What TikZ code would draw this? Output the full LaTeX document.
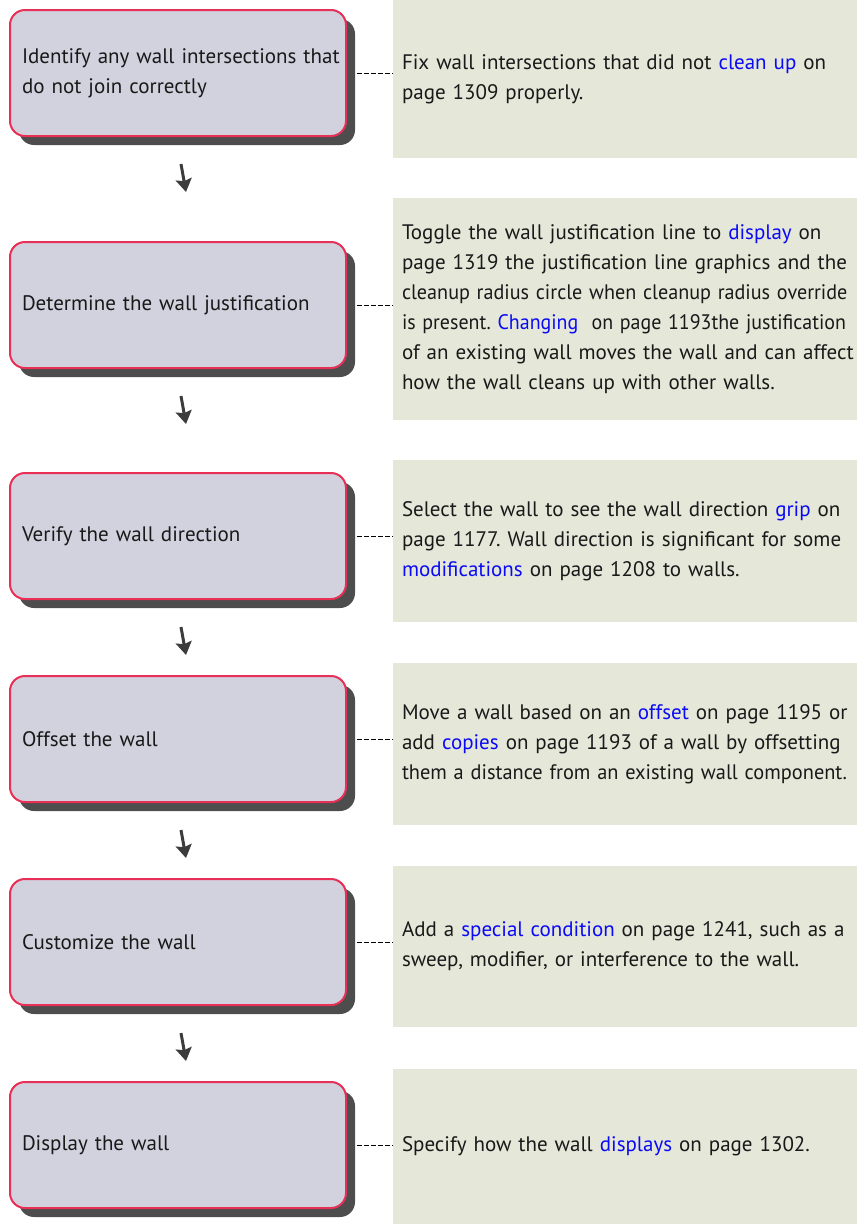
\documentclass[tikz,border=0pt]{standalone}
\usepackage{xcolor}
\usepackage{fontspec}
\setmainfont{PT Sans}
\usepackage{tikz}
\usetikzlibrary{arrows.meta,calc,shadows}
\frenchspacing

\definecolor{stepfill}{RGB}{210,210,223}
\definecolor{stepedge}{RGB}{232,48,86}
\definecolor{stepshade}{RGB}{77,77,77}
\definecolor{notefill}{RGB}{229,231,217}
\definecolor{linkblue}{RGB}{10,10,245}
\definecolor{flowgray}{RGB}{60,60,60}
\newcommand{\lnk}[1]{\textcolor{linkblue}{#1}}

\tikzset{
  stepbox/.style={draw=stepedge,fill=stepfill,line width=2pt,rounded corners=15pt,
    minimum width=336pt,minimum height=126pt,text width=312pt,inner xsep=12pt,
    align=left,text=black!90,font=\fontsize{21}{30}\selectfont,
    drop shadow={shadow xshift=9pt,shadow yshift=-9pt,fill=stepshade,opacity=1}},
  notebox/.style={fill=notefill,minimum width=464pt,text width=446pt,inner xsep=9pt,
    align=left,text=black!90,font=\fontsize{21}{30}\selectfont},
  flowarrow/.style={->,flowgray,line width=3pt,>={Stealth[length=13pt,width=16pt,inset=2pt]}},
  notelink/.style={black,line width=1pt,dash pattern=on 5pt off 2pt}
}

\begin{document}
\begin{tikzpicture}[x=1pt,y=-1pt,line join=round]
  \useasboundingbox (0,0) rectangle (857,1224);
  \node[notebox,minimum height=158pt] (N1) at (625,79)
    {Fix wall intersections that did not \lnk{clean up} on\\page 1309 properly.};
  \node[notebox,minimum height=222pt] (N2) at (625,309)
    {Toggle the wall justification line to \lnk{display} on\\\mbox{page 1319 the justification line graphics and the}\\\mbox{\scalebox{0.96}[1]{cleanup radius circle when cleanup radius override}}\\\mbox{\scalebox{0.95}[1]{is present. \lnk{Changing}\ \ on page 1193the justification}}\\\mbox{of an existing wall moves the wall and can affect}\\how the wall cleans up with other walls.};
  \node[notebox,minimum height=162pt] (N3) at (625,541)
    {Select the wall to see the wall direction \lnk{grip} on\\\mbox{page 1177. Wall direction is significant for some}\\\lnk{modifications} on page 1208 to walls.};
  \node[notebox,minimum height=162pt] (N4) at (625,744)
    {\mbox{Move a wall based on an \lnk{offset} on page 1195 or}\\add \lnk{copies} on page 1193 of a wall by offsetting\\\mbox{\scalebox{0.97}[1]{them a distance from an existing wall component.}}};
  \node[notebox,minimum height=161pt] (N5) at (625,946.5)
    {\mbox{Add a \lnk{special condition} on page 1241, such as a}\\sweep, modifier, or interference to the wall.};
  \node[notebox,minimum height=155pt] (N6) at (625,1146.5)
    {Specify how the wall \lnk{displays} on page 1302.};
  \node[stepbox] (S1) at (178,73) {\mbox{Identify any wall intersections that}\\do not join correctly};
  \node[stepbox] (S2) at (178,305) {Determine the wall justification};
  \node[stepbox] (S3) at (178,536) {Verify the wall direction};
  \node[stepbox] (S4) at (178,739) {Offset the wall};
  \node[stepbox] (S5) at (178,942) {Customize the wall};
  \node[stepbox] (S6) at (178,1145) {Display the wall};
  \draw[notelink] ([xshift=10pt]S1.east) -- (S1.east -| N1.west);
  \draw[notelink] ([xshift=10pt]S2.east) -- (S2.east -| N2.west);
  \draw[notelink] ([xshift=10pt]S3.east) -- (S3.east -| N3.west);
  \draw[notelink] ([xshift=10pt]S4.east) -- (S4.east -| N4.west);
  \draw[notelink] ([xshift=10pt]S5.east) -- (S5.east -| N5.west);
  \draw[notelink] ([xshift=10pt]S6.east) -- (S6.east -| N6.west);
  \coordinate (A1) at ($(S1.south)+(3,27)$);
  \coordinate (B1) at ($(S1.south)+(8,55)$);
  \coordinate (A2) at ($(S2.south)+(3,27)$);
  \coordinate (B2) at ($(S2.south)+(8,55)$);
  \coordinate (A3) at ($(S3.south)+(3,27)$);
  \coordinate (B3) at ($(S3.south)+(8,55)$);
  \coordinate (A4) at ($(S4.south)+(3,27)$);
  \coordinate (B4) at ($(S4.south)+(8,55)$);
  \coordinate (A5) at ($(S5.south)+(3,27)$);
  \coordinate (B5) at ($(S5.south)+(8,55)$);
  \draw[flowarrow] (A1) -- (B1);
  \draw[flowarrow] (A2) -- (B2);
  \draw[flowarrow] (A3) -- (B3);
  \draw[flowarrow] (A4) -- (B4);
  \draw[flowarrow] (A5) -- (B5);
\end{tikzpicture}
\end{document}
